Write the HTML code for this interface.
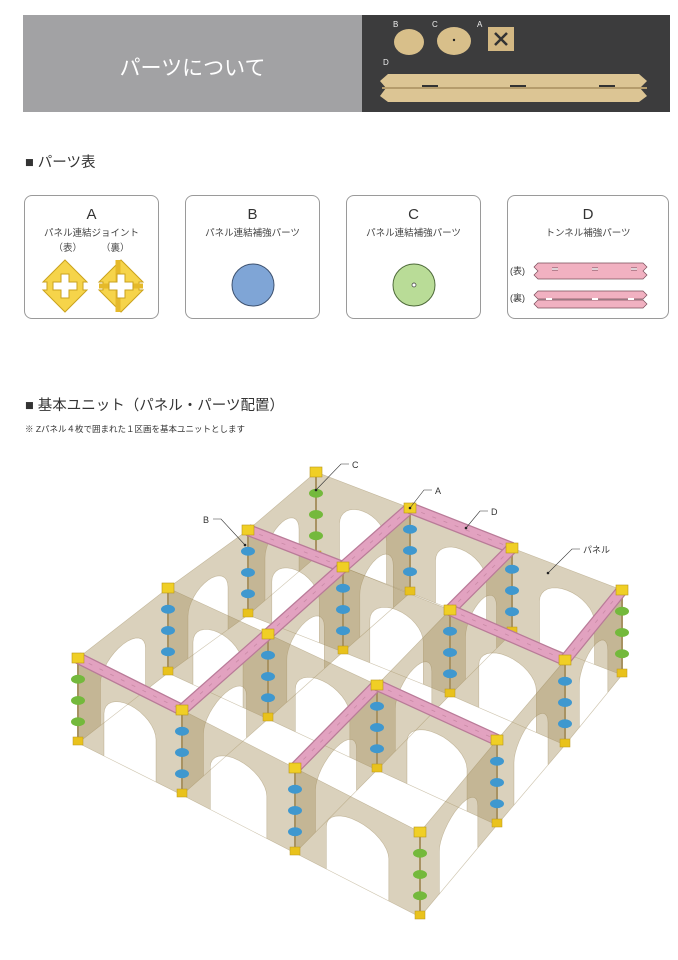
<!DOCTYPE html>
<html><head><meta charset="utf-8">
<style>
body{margin:0;background:#fff;width:678px;height:960px;position:relative;overflow:hidden;font-family:"Liberation Sans","Noto Sans CJK JP",sans-serif;color:#333}
.abs{position:absolute}
.box{position:absolute;top:195px;height:124px;border:1px solid #9a9a9a;border-radius:8px;box-sizing:border-box;text-align:center}
.box .L{font-size:15px;margin-top:10px;color:#333}
.box .s{font-size:9.5px;color:#444;margin-top:2px}
</style></head><body>
<div class="abs" style="left:23px;top:15px;width:339px;height:97px;background:#a2a2a4"></div>
<div class="abs" style="left:23px;top:52px;width:339px;text-align:center;color:#fff;font-size:21px">パーツについて</div>
<div class="abs" style="left:362px;top:15px;width:308px;height:97px;background:#3c3c3d"></div>
<svg class="abs" style="left:362px;top:15px" width="308" height="97">
<text x="31" y="12" fill="#eee" font-size="8">B</text><text x="70" y="12" fill="#eee" font-size="8">C</text><text x="115" y="12" fill="#eee" font-size="8">A</text><text x="21" y="50" fill="#eee" font-size="8">D</text>
<ellipse cx="47" cy="27" rx="15" ry="13" fill="#d8bf8a"/><ellipse cx="92" cy="26" rx="17" ry="14" fill="#d8bf8a"/><circle cx="92" cy="25" r="1.2" fill="#222"/>
<rect x="126" y="12" width="26" height="24" fill="#d3b883"/><path d="M133 18l12 12M145 18l-12 12" stroke="#333" stroke-width="2.5"/>
<path d="M26 59h251l8 7-7 7 7 8-8 6H26l-8-6 6-8-6-7z" fill="#dcc594"/><path d="M20 73h265" stroke="#b59c6c" stroke-width="2"/>
<path d="M60 71h16M148 71h16M237 71h16" stroke="#333" stroke-width="2"/>
</svg>
<div class="abs" style="left:25px;top:151px;font-size:14.5px">■ パーツ表</div>
<div class="box" style="left:24px;width:135px"><div class="L">A</div><div class="s">パネル連結ジョイント</div><div class="s" style="margin-top:1px">（表）　　　（裏）</div>
<svg width="133" height="60"><g transform="translate(40,32)"><path d="M0-26l22 22h-4v8h4L0 26l-22-22h4v-8h-4z" fill="#f6d44a" stroke="#caa21d"/><path d="M-4-12h8v8h8v8h-8v8h-8v-8h-8v-8h8z" fill="#fff" stroke="#caa21d"/></g>
<g transform="translate(96,32)"><path d="M0-26l22 22h-4v8h4L0 26l-22-22h4v-8h-4z" fill="#f6d44a" stroke="#caa21d"/><path d="M-3-26v52M-22 0h44" stroke="#e5b92a" stroke-width="5"/><path d="M-4-12h8v8h8v8h-8v8h-8v-8h-8v-8h8z" fill="#fff" stroke="#caa21d"/></g></svg></div>
<div class="box" style="left:185px;width:135px"><div class="L">B</div><div class="s">パネル連結補強パーツ</div><svg width="133" height="80"><circle cx="67" cy="46" r="21" fill="#7fa5d6" stroke="#3e5270"/></svg></div>
<div class="box" style="left:346px;width:135px"><div class="L">C</div><div class="s">パネル連結補強パーツ</div><svg width="133" height="80"><circle cx="67" cy="46" r="21" fill="#b9dc97" stroke="#4e6a3a"/><circle cx="67" cy="46" r="2" fill="#fff" stroke="#333" stroke-width=".7"/></svg></div>
<div class="box" style="left:507px;width:162px"><div class="L">D</div><div class="s">トンネル補強パーツ</div>
<svg width="160" height="80"><text x="2" y="35" font-size="9" fill="#333">(表)</text><text x="2" y="62" font-size="9" fill="#333">(裏)</text>
<path d="M30 24h105l4 4-4 4 4 4-4 4H30l-4-4 4-4-4-4z" fill="#f1b1c1" stroke="#7a4d5a" stroke-width=".7"/>
<path d="M44 30h6M84 30h6M123 30h6" stroke="#7a4d5a" stroke-width="3"/><path d="M44 30h6M84 30h6M123 30h6" stroke="#fff" stroke-width="1.6"/>
<path d="M30 52h105l4 4-4 4H30l-4-4z M30 61h105l4 4-4 4H30l-4-4z" fill="#f1b1c1" stroke="#7a4d5a" stroke-width=".7"/>
<path d="M38 60h6M84 60h6M120 60h6" stroke="#fff" stroke-width="2"/></svg></div>
<div class="abs" style="left:25px;top:394px;font-size:14.5px">■ 基本ユニット（パネル・パーツ配置）</div>
<div class="abs" style="left:25px;top:423px;font-size:8.5px">※ Zパネル４枚で囲まれた１区画を基本ユニットとします</div>
<svg id="d" class="abs" style="left:0;top:0" width="678" height="960">
<g id="g"></g>
<g stroke="#333" stroke-width=".6" fill="none"><path d="M349 464h-8l-25 26"/><path d="M432 490h-8l-14 18"/><path d="M488 511h-8l-14 17"/><path d="M213 519h8l24 26"/><path d="M580 549h-8l-24 24"/></g>
<g font-size="9" fill="#333"><text x="352" y="468">C</text><text x="435" y="494">A</text><text x="491" y="515">D</text><text x="203" y="523">B</text><text x="583" y="553">パネル</text></g>
<g fill="#222"><circle cx="316" cy="490" r="1.3"/><circle cx="410" cy="508" r="1.3"/><circle cx="466" cy="528" r="1.3"/><circle cx="245" cy="545" r="1.3"/><circle cx="548" cy="573" r="1.3"/></g>
</svg>
<script>
var P=[[[316,472],[410,508],[512,548],[622,590]],[[248,530],[343,567],[450,610],[565,660]],[[168,588],[268,634],[377,685],[497,740]],[[78,658],[182,710],[295,768],[420,832]]];
var H=85,g=document.getElementById('g'),out=[];
function pt(A,B,u,v){return [(A[0]+u*(B[0]-A[0])).toFixed(1),(A[1]+u*(B[1]-A[1])+v).toFixed(1)].join(',');}
function panel(A,B){var d='M'+pt(A,B,0,0)+'L'+pt(A,B,1,0)+'L'+pt(A,B,1,H)+'L'+pt(A,B,0,H)+'Z';
var h='M'+pt(A,B,.25,H);for(var k=0;k<=16;k++){var t=Math.PI*k/16;h+='L'+pt(A,B,.5-.25*Math.cos(t),H*.5-H*.25*Math.sin(t));}h+='L'+pt(A,B,.75,H)+'Z';
out.push([(A[1]+B[1])/2,'<path d="'+d+h+'" fill="rgba(168,146,96,0.42)" fill-rule="evenodd" stroke="rgba(150,130,85,0.45)" stroke-width=".6"/>']);}
for(var i=0;i<4;i++)for(var j=0;j<3;j++){panel(P[i][j],P[i][j+1]);panel(P[j][i],P[j+1][i]);}
out.sort(function(a,b){return a[0]-b[0]});
var s=out.map(function(a){return a[1]}).join('');
for(i=0;i<4;i++)for(j=0;j<4;j++){var p=P[i][j],x=p[0],y=p[1],c=((i==0||i==3)&&(j==0||j==3))?'#74b93c':'#3f98cf';
s+='<line x1="'+x+'" y1="'+y+'" x2="'+x+'" y2="'+(y+H)+'" stroke="#a89262" stroke-width="2"/>';
for(var k=1;k<=3;k++)s+='<ellipse cx="'+x+'" cy="'+(y+H*k/4)+'" rx="7" ry="4.5" fill="'+c+'"/>';
s+='<rect x="'+(x-5)+'" y="'+(y+H-6)+'" width="10" height="8" fill="#e9c21c" stroke="#b8961a" stroke-width=".5"/>';}
var B=[[1,0,1,1],[1,1,0,1],[0,1,0,2],[0,2,1,2],[1,2,1,3],[1,3,0,3],[3,0,3,1],[3,1,2,1],[2,1,1,1],[3,2,2,2],[2,2,2,3]];
B.forEach(function(b){var a=P[b[0]][b[1]],c=P[b[2]][b[3]];s+='<line x1="'+a[0]+'" y1="'+a[1]+'" x2="'+c[0]+'" y2="'+c[1]+'" stroke="#b97b98" stroke-width="12"/><line x1="'+a[0]+'" y1="'+a[1]+'" x2="'+c[0]+'" y2="'+c[1]+'" stroke="#e2a2c0" stroke-width="9.5"/><line x1="'+a[0]+'" y1="'+a[1]+'" x2="'+c[0]+'" y2="'+c[1]+'" stroke="#c98aa6" stroke-width=".8" stroke-dasharray="4 8"/>';});
for(i=0;i<4;i++)for(j=0;j<4;j++){var p=P[i][j];s+='<rect x="'+(p[0]-6)+'" y="'+(p[1]-5)+'" width="12" height="10" fill="#f0cf25" stroke="#b8961a" stroke-width=".6"/>';}
g.innerHTML=s;
</script>
</body></html>
